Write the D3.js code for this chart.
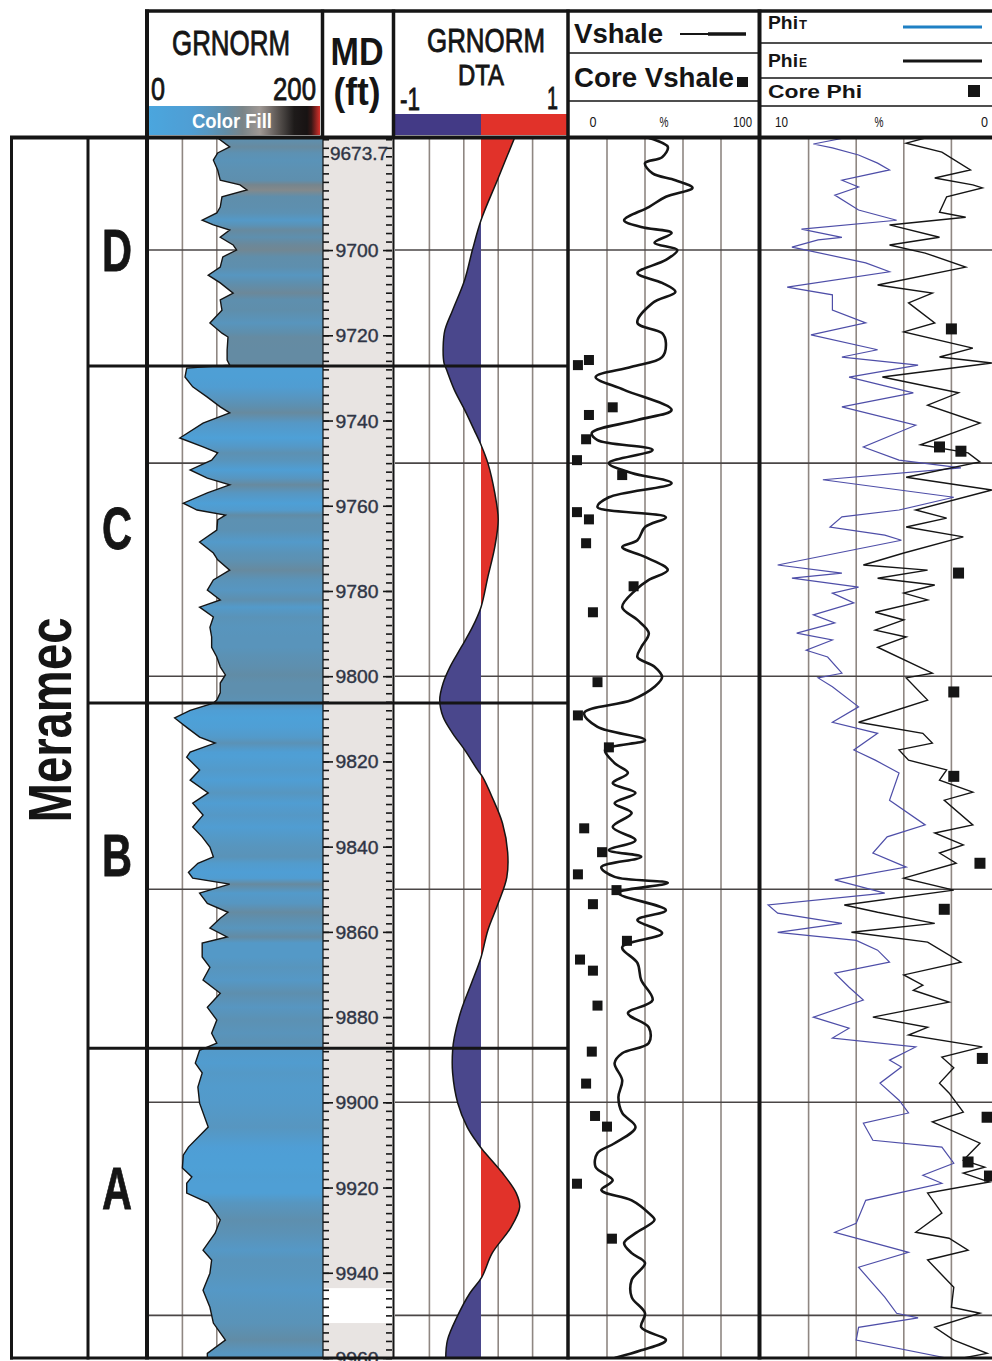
<!DOCTYPE html>
<html><head><meta charset="utf-8">
<script src="https://cdn.jsdelivr.net/npm/d3@7"></script>
<style>
body{margin:0;background:#fff;}
svg{display:block;}
text{font-family:"Liberation Sans", Arial, sans-serif;}
</style>
</head><body>
<svg id="chart" width="992" height="1361"></svg>
<script>
// ---------------- DATA ----------------
const TOP_DEPTH = 9673.7, BOTTOM_DEPTH = 9960;
const formationName = "Meramec";
const zoneNames = ["D", "C", "B", "A"];
const zoneTops = [9673.7, 9727.2, 9806.3, 9887.3];
const zoneBases = [9727.2, 9806.3, 9887.3, 9960];
const zoneLabelDepths = [9700.0, 9765.2, 9841.9, 9920.1];
const gridDepths = [9700, 9750, 9800, 9850, 9900, 9950];
const depthLabels = [9700, 9720, 9740, 9760, 9780, 9800, 9820, 9840, 9860, 9880, 9900, 9920, 9940, 9960];
const topDepthLabel = "9673.7";
const noDataInterval = [9943.6, 9951.8];

const grTicks = [40, 80, 120, 160];
const dtaTicks = [-0.6, -0.2, 0.2, 0.6];
const vshTicks = [20, 40, 60, 80];
const phiTicks = [8, 6, 4, 2];

// GR color fill (value -> colour)
const grColorStops = [0, 50, 70, 90, 110, 130, 150, 170, 188, 200];
const grColorRange = ["#4aa6de", "#4f9ed4", "#5796c0", "#618ca6", "#7a8488", "#9f9894", "#5e5855", "#1e1b1a", "#161111", "#d8302a"];

// [depth ft, GRNORM API]
const grLog = [[9673.7,81],[9675.8,95],[9677.2,81],[9678.9,76],[9681.2,81],[9683.6,84],[9684.7,107],[9685.9,115],[9687.5,86],[9689.9,84],[9691.3,80],[9693.0,63],[9694.1,76],[9695.3,95],[9697.0,84],[9698.8,99],[9700.0,103],[9701.6,87],[9704.0,84],[9705.9,70],[9707.7,84],[9710.1,99],[9711.7,84],[9714.1,86],[9717.1,72],[9719.5,86],[9720.4,93],[9723.5,92],[9725.8,92],[9727.0,95],[9727.7,45],[9729.8,43],[9732.1,52],[9734.5,69],[9736.8,84],[9738.2,95],[9740.6,64],[9744.1,37],[9746.2,64],[9747.6,81],[9749.3,74],[9751.6,49],[9753.5,69],[9755.1,95],[9757.0,69],[9759.4,41],[9761.0,57],[9762.2,90],[9763.3,81],[9765.7,80],[9768.5,60],[9771.1,76],[9772.7,81],[9775.1,95],[9777.4,76],[9779.8,69],[9782.1,84],[9783.8,60],[9786.1,76],[9788.5,72],[9790.8,74],[9793.2,74],[9795.5,80],[9797.8,84],[9799.7,90],[9801.6,84],[9803.9,84],[9805.6,80],[9806.3,76],[9808.0,49],[9809.8,31],[9812.0,45],[9814.3,60],[9815.7,78],[9817.8,49],[9819.0,45],[9822.0,60],[9824.4,49],[9827.4,70],[9829.8,52],[9832.6,64],[9835.4,52],[9837.7,63],[9840.1,72],[9842.4,76],[9843.9,58],[9846.0,47],[9847.4,52],[9848.8,95],[9850.9,60],[9853.3,69],[9855.4,93],[9856.8,84],[9859.1,72],[9861.2,92],[9862.6,63],[9865.9,63],[9868.3,72],[9871.3,64],[9874.4,84],[9877.7,69],[9880.7,80],[9883.8,74],[9886.1,80],[9887.8,60],[9890.8,55],[9893.1,63],[9896.4,58],[9900.2,60],[9905.8,70],[9910.5,47],[9912.4,41],[9915.4,40],[9917.5,51],[9919.0,45],[9921.3,45],[9923.6,70],[9927.6,84],[9930.7,78],[9934.7,64],[9937.0,74],[9940.1,72],[9944.1,64],[9948.1,72],[9951.8,76],[9955.8,90],[9958.9,69],[9960,69]];

// [depth ft, GRNORM DTA]
const dtaLog = [[9673.7,0.39],[9683.6,0.19],[9693.0,0],[9700.0,-0.10],[9707.0,-0.19],[9714.1,-0.33],[9718.8,-0.42],[9722.7,-0.44],[9726.5,-0.43],[9728.1,-0.40],[9732.8,-0.31],[9737.5,-0.19],[9742.2,-0.08],[9745.7,0],[9750.0,0.08],[9757.0,0.16],[9763.3,0.20],[9769.7,0.16],[9776.7,0.08],[9783.8,0],[9788.5,-0.10],[9793.2,-0.23],[9797.8,-0.36],[9801.6,-0.44],[9805.6,-0.48],[9809.6,-0.44],[9813.4,-0.33],[9817.3,-0.19],[9822.0,-0.04],[9823.7,0.02],[9828.4,0.13],[9834.5,0.25],[9841.3,0.31],[9847.2,0.30],[9853.3,0.20],[9859.6,0.08],[9866.0,0],[9872.0,-0.11],[9878.4,-0.23],[9884.7,-0.31],[9887.8,-0.33],[9893.1,-0.33],[9900.2,-0.27],[9905.8,-0.16],[9909.6,-0.04],[9911.2,0.02],[9916.6,0.25],[9921.3,0.41],[9924.6,0.45],[9929.3,0.35],[9935.4,0.13],[9941.0,0.01],[9944.8,-0.13],[9950.4,-0.28],[9955.8,-0.39],[9960,-0.41]];

// [depth ft, Vshale %]
const vshaleLog = [[9673.7,42],[9675.8,52],[9678.2,49],[9679.6,40],[9682.0,44],[9683.6,56],[9685.4,65],[9687.5,51],[9689.9,42],[9693.0,29],[9694.6,38],[9696.0,54],[9698.3,45],[9700.0,57],[9702.3,51],[9705.4,36],[9707.7,49],[9709.8,56],[9712.4,44],[9717.1,36],[9719.5,49],[9721.8,51],[9725.1,49],[9727.4,33],[9729.8,14],[9732.8,29],[9737.5,54],[9739.9,36],[9742.9,12],[9744.6,15],[9746.9,44],[9750.0,21],[9752.3,33],[9754.7,54],[9758.0,21],[9760.3,15],[9762.7,51],[9765.0,40],[9768.1,36],[9769.7,28],[9772.0,40],[9775.1,52],[9777.4,42],[9779.8,35],[9783.8,28],[9786.8,36],[9789.9,42],[9793.2,38],[9795.5,36],[9797.8,45],[9800.2,49],[9802.5,45],[9805.6,33],[9808.6,8],[9811.9,15],[9815.0,40],[9817.3,19],[9820.4,24],[9822.7,31],[9825.1,23],[9827.4,35],[9829.8,24],[9832.1,33],[9835.4,23],[9838.5,35],[9840.8,21],[9842.4,38],[9844.8,17],[9847.1,24],[9848.5,52],[9850.9,26],[9854.9,51],[9857.2,36],[9860.3,49],[9863.6,28],[9867.3,36],[9871.3,38],[9876.0,44],[9879.1,31],[9882.4,42],[9886.1,42],[9888.5,28],[9890.8,24],[9894.8,28],[9898.8,26],[9902.5,28],[9905.8,35],[9909.6,24],[9911.9,15],[9915.2,14],[9918.3,23],[9920.6,17],[9923.0,33],[9926.0,42],[9927.6,45],[9930.7,35],[9933.0,29],[9935.4,33],[9937.7,40],[9941.7,33],[9945.7,33],[9949.5,40],[9952.8,38],[9955.8,51],[9958.2,38],[9960,24]];

// [depth ft, core Vshale %]
const coreVshale = [[9725.8,10.5],[9727.0,4.7],[9736.9,23],[9738.7,10.5],[9744.4,9],[9749.3,4.2],[9752.8,28],[9761.5,4.2],[9763.2,10.5],[9768.8,9],[9778.9,34],[9785.0,12.6],[9801.4,15],[9809.2,4.7],[9816.7,21],[9835.7,8],[9841.3,17.4],[9846.5,4.7],[9850.2,25],[9853.5,12.6],[9862.1,30.5],[9866.5,5.8],[9869.1,12.6],[9877.3,15],[9888.1,12],[9895.6,9],[9903.2,13.7],[9905.7,20],[9919.1,4.2],[9932.0,22.6]];

// [depth ft, PhiT %]
const phiTLog = [[9673.7,6.5],[9675.1,7.8],[9676.0,7.0],[9677.7,5.9],[9679.6,5.1],[9681.2,4.6],[9683.6,6.6],[9685.2,5.9],[9687.1,6.9],[9690.6,5.9],[9693.0,4.3],[9695.1,8.3],[9697.0,6.6],[9697.6,7.6],[9699.3,8.7],[9700.0,8.1],[9703.0,5.6],[9705.1,4.6],[9708.7,8.9],[9710.5,7.0],[9714.1,7.0],[9717.1,5.6],[9719.9,7.9],[9723.4,5.1],[9725.1,6.6],[9727.0,3.4],[9729.8,6.3],[9733.5,3.6],[9736.8,6.6],[9741.1,3.5],[9746.2,5.7],[9749.3,4.2],[9751.1,1.6],[9753.9,7.4],[9758.0,1.9],[9761.0,4.2],[9762.6,6.6],[9765.0,7.1],[9766.9,4.8],[9768.1,4.1],[9773.9,9.3],[9775.8,6.6],[9777.0,8.7],[9779.1,5.9],[9780.5,7.0],[9782.8,6.1],[9785.6,7.8],[9787.5,6.9],[9789.9,8.5],[9791.5,7.0],[9793.9,8.1],[9795.5,7.2],[9799.3,6.6],[9800.4,7.6],[9802.5,7.0],[9807.2,5.9],[9810.8,7.0],[9813.4,5.1],[9817.3,6.1],[9819.7,5.2],[9822.7,4.2],[9829.1,4.6],[9834.9,3.1],[9837.7,4.7],[9841.5,5.3],[9844.8,3.9],[9847.8,6.9],[9850.9,4.8],[9853.7,9.7],[9855.6,9.3],[9858.0,6.6],[9860.1,9.3],[9862.0,6.0],[9864.3,5.1],[9867.1,4.6],[9869.7,6.9],[9873.0,6.3],[9876.0,5.7],[9880.0,7.8],[9882.6,6.3],[9884.9,7.0],[9887.0,3.5],[9890.1,4.6],[9891.7,4.1],[9895.5,5.0],[9899.5,4.2],[9902.5,3.8],[9904.9,5.7],[9908.9,5.3],[9910.5,2.4],[9914.3,1.9],[9917.1,3.2],[9919.0,2.4],[9923.0,5.6],[9928.4,6.0],[9930.5,6.9],[9935.2,3.8],[9938.7,5.9],[9945.7,4.8],[9949.5,4.3],[9950.6,3.4],[9952.8,5.9],[9955.8,6.0],[9960,2.2]];

// [depth ft, PhiE %]
const phiELog = [[9673.7,3.1],[9674.9,3.9],[9677.0,2.4],[9681.2,1.2],[9683.1,2.7],[9684.7,1.1],[9685.4,0.7],[9687.5,2.2],[9691.1,2.5],[9692.3,1.4],[9694.1,4.6],[9697.0,2.5],[9698.8,4.6],[9700.7,3.1],[9704.0,1.4],[9708.2,5.1],[9710.1,2.8],[9712.4,3.8],[9717.1,2.7],[9719.2,4.0],[9723.0,1.1],[9725.1,2.5],[9726.5,0.3],[9729.8,4.9],[9733.5,1.7],[9736.4,3.0],[9740.6,0.8],[9745.7,3.3],[9747.6,1.3],[9749.7,0.8],[9753.3,3.9],[9756.3,0.3],[9761.0,3.5],[9762.9,2.2],[9765.0,3.9],[9767.3,1.5],[9771.1,4.0],[9773.9,5.7],[9775.1,3.0],[9777.0,5.1],[9778.6,2.7],[9780.5,4.0],[9782.1,3.0],[9785.0,5.2],[9786.8,4.0],[9789.2,5.2],[9790.8,3.9],[9793.2,5.1],[9799.3,2.8],[9800.4,3.9],[9805.6,3.0],[9810.8,5.9],[9813.4,3.2],[9815.7,2.8],[9817.3,4.2],[9819.7,3.8],[9822.0,2.2],[9824.4,2.5],[9827.2,1.1],[9829.1,2.3],[9834.9,1.1],[9836.8,2.7],[9839.6,1.5],[9841.5,2.5],[9843.9,1.8],[9847.4,4.0],[9850.2,1.9],[9853.7,6.5],[9855.4,5.1],[9858.0,2.7],[9860.1,6.2],[9862.4,3.0],[9867.1,1.6],[9870.1,4.0],[9872.5,3.2],[9873.7,3.6],[9876.5,2.1],[9880.0,5.3],[9882.4,3.0],[9884.2,3.8],[9887.0,0.7],[9889.4,2.4],[9891.9,1.9],[9895.5,2.5],[9897.8,2.1],[9902.3,1.5],[9904.6,2.8],[9909.6,0.8],[9913.6,1.5],[9915.2,0.6],[9916.6,1.5],[9918.7,0.4],[9921.3,3.0],[9926.0,2.4],[9930.5,3.5],[9931.9,2.1],[9934.7,1.3],[9937.0,3.0],[9943.4,1.9],[9948.1,2.0],[9949.5,0.8],[9952.8,2.7],[9955.8,1.9],[9958.9,0.5],[9960,1.5]];

// [depth ft, core porosity %]
const corePhi = [[9718.5,2.0],[9746.2,2.5],[9747.2,1.6],[9775.8,1.7],[9803.7,1.9],[9823.5,1.9],[9843.9,0.8],[9854.7,2.3],[9889.7,0.7],[9903.5,0.5],[9914.0,1.3],[9917.3,0.4]];

// ---------------- DRAWING ----------------
const svg = d3.select("#chart");
const defs = svg.append("defs");
const Y0 = 138, Y1 = 1358;
const y = d3.scaleLinear().domain([TOP_DEPTH, BOTTOM_DEPTH]).range([Y0, Y1]);
const xGR = d3.scaleLinear().domain([0, 200]).range([148, 320]);
const xDTA = d3.scaleLinear().domain([-1, 1]).range([395, 567]);
const xV = d3.scaleLinear().domain([0, 100]).range([569, 759]);
const xPhi = d3.scaleLinear().domain([10, 0]).range([761, 999]);
const grColor = d3.scaleLinear().domain(grColorStops).range(grColorRange).interpolate(d3.interpolateRgb);

const INK = "#151515";
const GRIDV = "#8f8782";
const GRIDH = "#4a4646";

function clip(id, x0, x1, y0 = Y0, y1 = Y1) {
  defs.append("clipPath").attr("id", id).append("rect")
    .attr("x", x0).attr("y", y0).attr("width", x1 - x0).attr("height", y1 - y0);
  return `url(#${id})`;
}
function label(g, o) {
  const t = g.append("text").attr("x", o.x).attr("y", o.y).text(o.text)
    .attr("font-size", o.size).attr("font-weight", o.weight || "normal")
    .attr("text-anchor", o.anchor || "start").attr("fill", o.fill || INK);
  if (o.len) t.attr("textLength", o.len).attr("lengthAdjust", "spacingAndGlyphs");
  if (o.rotate) t.attr("transform", `rotate(${o.rotate},${o.x},${o.y})`);
  if (o.heavy) t.attr("stroke", o.fill || INK).attr("stroke-width", o.heavy);
  return t;
}
function hline(g, x1, x2, yy, w, c = INK) {
  g.append("line").attr("x1", x1).attr("x2", x2).attr("y1", yy).attr("y2", yy)
    .attr("stroke", c).attr("stroke-width", w);
}
function vline(g, xx, y1, y2, w, c = INK) {
  g.append("line").attr("x1", xx).attr("x2", xx).attr("y1", y1).attr("y2", y2)
    .attr("stroke", c).attr("stroke-width", w);
}
function grid(g, xs, x0, x1) {
  xs.forEach(v => vline(g, v, Y0, Y1, 1.6, GRIDV));
  gridDepths.forEach(d => hline(g, x0, x1, y(d), 1.6, GRIDH));
}

// ---- GR track ----
const gGR = svg.append("g").attr("clip-path", clip("cGR", 148, 323));
grid(gGR, grTicks.map(xGR), 148, 323);
const grad = defs.append("linearGradient").attr("id", "grFill")
  .attr("gradientUnits", "userSpaceOnUse").attr("x1", 0).attr("x2", 0).attr("y1", Y0).attr("y2", Y1);
grLog.forEach(([d, v]) => grad.append("stop")
  .attr("offset", (y(d) - Y0) / (Y1 - Y0)).attr("stop-color", grColor(v)));
gGR.append("path").datum(grLog)
  .attr("d", d3.area().y(d => y(d[0])).x0(d => xGR(d[1])).x1(323))
  .attr("fill", "url(#grFill)");
gGR.append("path").datum(grLog)
  .attr("d", d3.line().y(d => y(d[0])).x(d => xGR(d[1])))
  .attr("fill", "none").attr("stroke", INK).attr("stroke-width", 1.4);

// ---- Depth track ----
const gMD = svg.append("g");
gMD.append("rect").attr("x", 323).attr("y", Y0).attr("width", 70).attr("height", Y1 - Y0).attr("fill", "#e8e4e2");
gMD.append("rect").attr("x", 323).attr("y", y(noDataInterval[0])).attr("width", 70)
  .attr("height", y(noDataInterval[1]) - y(noDataInterval[0])).attr("fill", "#ffffff");
const minorTicks = d3.range(9674, 9961, 2);
function ticks(axis, xx, vals, size) {
  const a = gMD.append("g").attr("transform", `translate(${xx},0)`)
    .call(axis(y).tickValues(vals).tickSize(size).tickFormat(""));
  a.select(".domain").remove();
  a.selectAll("line").attr("stroke", INK).attr("stroke-width", 1.6);
}
ticks(d3.axisRight, 323, minorTicks, 6);
ticks(d3.axisLeft, 392, minorTicks, 6);
ticks(d3.axisRight, 323, depthLabels, 10);
ticks(d3.axisLeft, 392, depthLabels, 9);
depthLabels.forEach(d => label(gMD, { x: 357, y: y(d) + 7, text: d, size: 19, anchor: "middle", len: 43, fill: "#2f3545", heavy: 0.4 }));
label(gMD, { x: 359, y: 160, text: topDepthLabel, size: 19, anchor: "middle", len: 58, fill: "#2f3545", heavy: 0.4 });

// ---- DTA track ----
const gD = svg.append("g").attr("clip-path", clip("cD", 395, 567));
grid(gD, dtaTicks.map(xDTA), 395, 567);
const dtaCurve = d3.curveCatmullRom.alpha(0.5);
const dArea = d3.area().y(d => y(d[0])).x0(xDTA(0)).x1(d => xDTA(d[1])).curve(dtaCurve);
clip("cDneg", 395, xDTA(0));
clip("cDpos", xDTA(0), 567);
gD.append("path").datum(dtaLog).attr("d", dArea).attr("fill", "#4a478c").attr("clip-path", "url(#cDneg)");
gD.append("path").datum(dtaLog).attr("d", dArea).attr("fill", "#e1322a").attr("clip-path", "url(#cDpos)");
gD.append("path").datum(dtaLog)
  .attr("d", d3.line().y(d => y(d[0])).x(d => xDTA(d[1])).curve(dtaCurve))
  .attr("fill", "none").attr("stroke", INK).attr("stroke-width", 1.5);

// ---- Vshale track ----
const gV = svg.append("g").attr("clip-path", clip("cV", 569, 759));
grid(gV, vshTicks.map(xV), 569, 759);
gV.append("path").datum(vshaleLog)
  .attr("d", d3.line().y(d => y(d[0])).x(d => xV(d[1])).curve(d3.curveCatmullRom.alpha(0.5)))
  .attr("fill", "none").attr("stroke", INK).attr("stroke-width", 2.6).attr("stroke-linejoin", "round");
gV.selectAll("rect.core").data(coreVshale).join("rect")
  .attr("x", d => xV(d[1]) - 5).attr("y", d => y(d[0]) - 5).attr("width", 10).attr("height", 10).attr("fill", INK);

// ---- Porosity track ----
const gP = svg.append("g").attr("clip-path", clip("cP", 761, 992));
grid(gP, phiTicks.map(xPhi), 761, 992);
gP.append("path").datum(phiTLog)
  .attr("d", d3.line().y(d => y(d[0])).x(d => xPhi(d[1])))
  .attr("fill", "none").attr("stroke", "#4e4ea8").attr("stroke-width", 1.2);
gP.append("path").datum(phiELog)
  .attr("d", d3.line().y(d => y(d[0])).x(d => xPhi(d[1])))
  .attr("fill", "none").attr("stroke", INK).attr("stroke-width", 1.4);
gP.selectAll("rect.core").data(corePhi).join("rect")
  .attr("x", d => xPhi(d[1]) - 5.5).attr("y", d => y(d[0]) - 5.5).attr("width", 11).attr("height", 11).attr("fill", INK);

// ---- Zone column & formation ----
const gZ = svg.append("g");
zoneNames.forEach((z, i) => label(gZ, { x: 117, y: y(zoneLabelDepths[i]) + 21, text: z, size: 60, weight: "bold", anchor: "middle", len: 30, heavy: 0.8 }));
label(gZ, { x: 71, y: 720, text: formationName, size: 62, weight: "bold", anchor: "middle", len: 205, rotate: -90 });

// ---- Headers ----
const gH = svg.append("g");
label(gH, { x: 231, y: 55, text: "GRNORM", size: 35, anchor: "middle", len: 118, heavy: 0.9 });
label(gH, { x: 151, y: 100, text: "0", size: 31, len: 14, heavy: 0.8 });
label(gH, { x: 316, y: 100, text: "200", size: 31, anchor: "end", len: 43, heavy: 0.8 });
const barGrad = defs.append("linearGradient").attr("id", "grBar")
  .attr("gradientUnits", "userSpaceOnUse").attr("x1", xGR(0)).attr("x2", xGR(200)).attr("y1", 0).attr("y2", 0);
d3.range(0, 201, 5).forEach(v => barGrad.append("stop").attr("offset", v / 200).attr("stop-color", grColor(v)));
gH.append("rect").attr("x", xGR(0)).attr("y", 106).attr("width", xGR(200) - xGR(0)).attr("height", 29).attr("fill", "url(#grBar)");
label(gH, { x: 232, y: 128, text: "Color Fill", size: 20, weight: "bold", anchor: "middle", len: 80, fill: "#ffffff" });

label(gH, { x: 357, y: 65, text: "MD", size: 39, weight: "bold", anchor: "middle", len: 53 });
label(gH, { x: 357, y: 105, text: "(ft)", size: 38, weight: "bold", anchor: "middle", len: 47 });

label(gH, { x: 486, y: 52, text: "GRNORM", size: 34, anchor: "middle", len: 118, heavy: 0.9 });
label(gH, { x: 481, y: 85, text: "DTA", size: 29, anchor: "middle", len: 46, heavy: 0.9 });
label(gH, { x: 400, y: 110, text: "-1", size: 31, len: 20, heavy: 0.8 });
label(gH, { x: 558, y: 109, text: "1", size: 31, anchor: "end", len: 11, heavy: 0.8 });
gH.append("rect").attr("x", xDTA(-1)).attr("y", 114).attr("width", xDTA(0) - xDTA(-1)).attr("height", 21).attr("fill", "#433a86");
gH.append("rect").attr("x", xDTA(0)).attr("y", 114).attr("width", xDTA(1) - xDTA(0)).attr("height", 21).attr("fill", "#e1322a");

label(gH, { x: 574, y: 43, text: "Vshale", size: 27, weight: "bold", len: 89 });
hline(gH, 680, 712, 34, 2);
hline(gH, 708, 746, 34, 3.5);
label(gH, { x: 574, y: 87, text: "Core Vshale", size: 27, weight: "bold", len: 160 });
gH.append("rect").attr("x", 737).attr("y", 77).attr("width", 11).attr("height", 10).attr("fill", INK);
label(gH, { x: 593, y: 127, text: "0", size: 15, anchor: "middle", len: 7 });
label(gH, { x: 664, y: 127, text: "%", size: 15, anchor: "middle", len: 9 });
label(gH, { x: 752, y: 127, text: "100", size: 15, anchor: "end", len: 19 });

label(gH, { x: 768, y: 29, text: "Phi", size: 19, weight: "bold", len: 30 });
label(gH, { x: 799, y: 29, text: "T", size: 12, weight: "bold", len: 8 });
hline(gH, 903, 982, 27, 3, "#1f80c4");
label(gH, { x: 768, y: 67, text: "Phi", size: 19, weight: "bold", len: 30 });
label(gH, { x: 799, y: 67, text: "E", size: 12, weight: "bold", len: 8 });
hline(gH, 903, 982, 61, 3);
label(gH, { x: 768, y: 98, text: "Core Phi", size: 19, weight: "bold", len: 94 });
gH.append("rect").attr("x", 968).attr("y", 85).attr("width", 12).attr("height", 12).attr("fill", INK);
label(gH, { x: 775, y: 127, text: "10", size: 15, len: 13 });
label(gH, { x: 879, y: 127, text: "%", size: 15, anchor: "middle", len: 9 });
label(gH, { x: 988, y: 127, text: "0", size: 15, anchor: "end", len: 7 });

// ---- Frame ----
const gF = svg.append("g");
hline(gF, 145, 992, 11, 3.5);
hline(gF, 10, 992, 137.5, 4);
hline(gF, 10, 992, 1358, 3);
vline(gF, 11.5, 136, 1359.5, 3);
vline(gF, 88, 136, 1359.5, 3);
vline(gF, 147, 9.5, 1359.5, 4);
vline(gF, 322.5, 9.5, 138, 3.5);
vline(gF, 323, 138, 1358, 1.2);
vline(gF, 393.5, 9.5, 138, 3.5);
vline(gF, 393.5, 138, 1358, 2);
vline(gF, 568, 9.5, 1359.5, 3.5);
vline(gF, 759.5, 9.5, 1359.5, 4);
zoneTops.slice(1).forEach(d => hline(gF, 88, 568, y(d), 3));
hline(gF, 569, 758, 53, 1.5);
hline(gF, 569, 758, 101, 1.5);
hline(gF, 761, 992, 43, 1.5);
hline(gF, 761, 992, 78, 1.5);
hline(gF, 761, 992, 106, 1.5);
</script>
</body></html>
